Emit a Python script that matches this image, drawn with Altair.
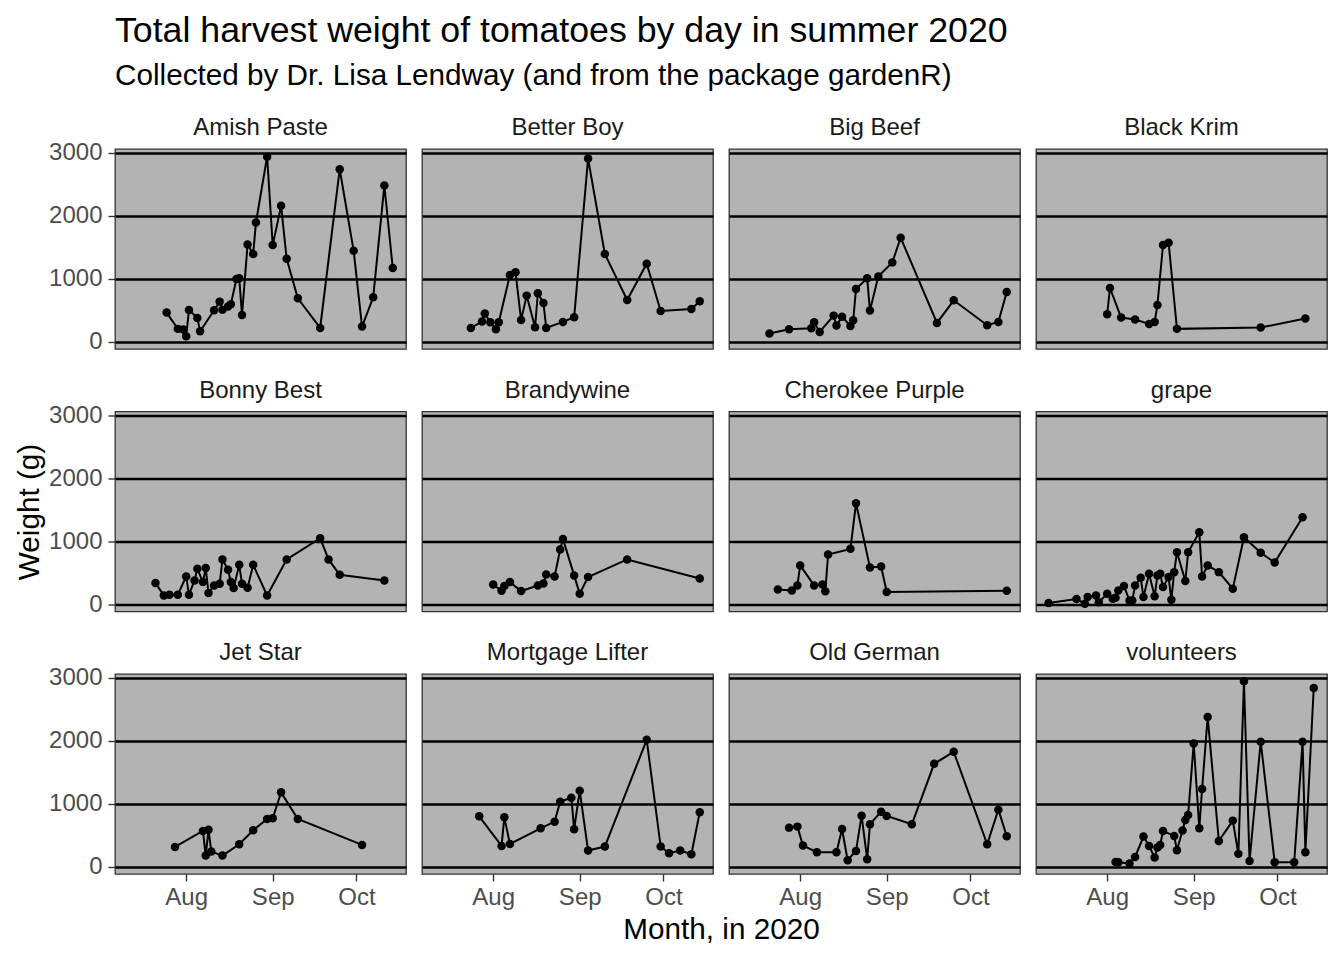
import altair as alt
import pandas as pd

varieties = ["Amish Paste", "Better Boy", "Big Beef", "Black Krim",
             "Bonny Best", "Brandywine", "Cherokee Purple", "grape",
             "Jet Star", "Mortgage Lifter", "Old German", "volunteers"]

amish_dates = ["07-25", "07-29", "07-31", "08-01", "08-02", "08-05", "08-06", "08-11",
               "08-13", "08-14", "08-16", "08-17", "08-19", "08-20", "08-21", "08-23",
               "08-25", "08-26", "08-30", "09-01", "09-04", "09-06", "09-10", "09-18",
               "09-25", "09-30", "10-03", "10-07", "10-11", "10-14"]
amish_weights = [464, 206, 195, 90, 506, 380, 169, 501, 638, 511, 559, 596, 996, 1007,
                 427, 1545, 1392, 1892, 2936, 1534, 2156, 1318, 691, 221, 2736, 1444,
                 242, 706, 2478, 1170]

betterboy_dates = ["07-24", "07-28", "07-29", "07-31", "08-02", "08-03", "08-07", "08-09",
                   "08-11", "08-13", "08-16", "08-17", "08-19", "08-20", "08-26", "08-30",
                   "09-04", "09-10", "09-18", "09-25", "09-30", "10-11", "10-14"]
betterboy_weights = [221, 322, 448, 311, 200, 311, 1060, 1102, 348, 733, 232, 770, 617,
                     221, 316, 390, 2905, 1392, 664, 1239, 490, 522, 643]

bigbeef_dates = ["07-21", "07-28", "08-05", "08-06", "08-08", "08-13", "08-14", "08-16",
                 "08-19", "08-20", "08-21", "08-25", "08-26", "08-29", "09-03", "09-06",
                 "09-19", "09-25", "10-07", "10-11", "10-14"]
bigbeef_weights = [132, 200, 216, 311, 158, 416, 258, 400, 253, 343, 838, 1007, 496,
                   1038, 1260, 1650, 300, 659, 264, 316, 791]

blackkrim_dates = ["08-01", "08-02", "08-06", "08-11", "08-16", "08-18", "08-19", "08-21",
                   "08-23", "08-26", "09-25", "10-11"]
blackkrim_weights = [438, 854, 385, 353, 285, 316, 585, 1534, 1571, 206, 227, 369]

bonny_dates = ["07-21", "07-24", "07-26", "07-29", "08-01", "08-02", "08-04", "08-05",
               "08-07", "08-08", "08-09", "08-11", "08-13", "08-14", "08-16", "08-17",
               "08-18", "08-20", "08-21", "08-23", "08-25", "08-30", "09-06", "09-18",
               "09-21", "09-25", "10-11"]
bonny_weights = [337, 142, 153, 153, 443, 153, 380, 564, 353, 575, 179, 300, 327, 712,
                 548, 353, 258, 627, 327, 264, 627, 142, 712, 1049, 712, 469, 380]

brandywine_dates = ["08-01", "08-04", "08-05", "08-07", "08-11", "08-17", "08-19", "08-20",
                    "08-23", "08-25", "08-26", "08-30", "09-01", "09-04", "09-18", "10-14"]
brandywine_weights = [316, 216, 290, 353, 211, 300, 332, 474, 443, 870, 1038, 459, 169,
                      432, 712, 411]

cherokee_dates = ["07-24", "07-29", "07-31", "08-01", "08-06", "08-09", "08-10", "08-11",
                  "08-19", "08-21", "08-26", "08-30", "09-01", "10-14"]
cherokee_weights = [237, 221, 300, 617, 300, 316, 206, 791, 880, 1603, 585, 601, 195, 216]

grape_dates = ["07-11", "07-21", "07-24", "07-25", "07-28", "07-29", "08-01", "08-03",
               "08-04", "08-05", "08-07", "08-09", "08-10", "08-11", "08-13", "08-14",
               "08-16", "08-18", "08-19", "08-20", "08-21", "08-23", "08-24", "08-25",
               "08-26", "08-29", "08-30", "09-03", "09-04", "09-06", "09-10", "09-15",
               "09-19", "09-25", "09-30", "10-10"]
grape_weights = [21, 84, 11, 116, 142, 32, 169, 90, 105, 221, 290, 63, 63, 300, 422, 116,
                 485, 127, 459, 485, 274, 432, 74, 511, 827, 369, 827, 1144, 443, 617,
                 511, 248, 1065, 817, 664, 1381]

jetstar_dates = ["07-28", "08-07", "08-08", "08-09", "08-10", "08-14", "08-20", "08-25",
                 "08-30", "09-01", "09-04", "09-10", "10-03"]
jetstar_weights = [316, 569, 179, 590, 242, 179, 358, 580, 759, 770, 1181, 759, 348]

mortgage_dates = ["07-27", "08-04", "08-05", "08-07", "08-18", "08-23", "08-25", "08-29",
                  "08-30", "09-01", "09-04", "09-10", "09-25", "09-30", "10-03", "10-07",
                  "10-11", "10-14"]
mortgage_weights = [801, 332, 785, 364, 611, 717, 1033, 1096, 596, 1207, 258, 322, 2014,
                    322, 216, 258, 200, 865]

oldgerman_dates = ["07-28", "07-31", "08-02", "08-07", "08-14", "08-16", "08-18", "08-21",
                   "08-23", "08-25", "08-26", "08-30", "09-01", "09-10", "09-18", "09-25",
                   "10-07", "10-11", "10-14"]
oldgerman_weights = [622, 638, 337, 232, 232, 601, 105, 253, 812, 121, 675, 875, 807, 675,
                     1634, 1824, 358, 907, 485]

volunteers_dates = ["08-04", "08-05", "08-09", "08-11", "08-14", "08-16", "08-18", "08-19",
                    "08-20", "08-21", "08-25", "08-26", "08-28", "08-29", "08-30", "09-01",
                    "09-03", "09-04", "09-06", "09-10", "09-15", "09-17", "09-19", "09-21",
                    "09-25", "09-30", "10-07", "10-10", "10-11", "10-14"]
volunteers_weights = [79, 74, 53, 158, 480, 332, 148, 306, 348, 569, 490, 264, 575, 743,
                      822, 1956, 612, 1234, 2377, 411, 733, 206, 2941, 95, 1982, 74, 74,
                      1982, 232, 2836]

series = [
    (amish_dates, amish_weights), (betterboy_dates, betterboy_weights),
    (bigbeef_dates, bigbeef_weights), (blackkrim_dates, blackkrim_weights),
    (bonny_dates, bonny_weights), (brandywine_dates, brandywine_weights),
    (cherokee_dates, cherokee_weights), (grape_dates, grape_weights),
    (jetstar_dates, jetstar_weights), (mortgage_dates, mortgage_weights),
    (oldgerman_dates, oldgerman_weights), (volunteers_dates, volunteers_weights),
]

y_ticks = [0, 1000, 2000, 3000]
x_tick_months = [8, 9, 10]

FONT = "Liberation Sans"
PW, PH = 291, 200

x_scale = alt.Scale(
    type="utc", nice=False,
    domain=[alt.DateTime(year=2020, month=7, date=6, hours=12, utc=True),
            alt.DateTime(year=2020, month=10, date=18, hours=18, utc=True)])
y_scale = alt.Scale(domain=[-113, 3057], nice=False, zero=False)
x_values = [alt.DateTime(year=2020, month=m, date=1, utc=True) for m in x_tick_months]


def make_panel(i):
    name = varieties[i]
    dates, weights = series[i]
    col, row = i % 4, i // 4
    data = pd.DataFrame({"date": ["2020-" + d for d in dates], "weight": weights})

    y_kw = dict(values=y_ticks, grid=True, gridColor="black", gridWidth=2.3,
                format="d", labels=(col == 0), ticks=(col == 0), labelPadding=6)
    if col == 0 and row == 1:
        y_kw.update(title="Weight (g)", titlePadding=4)
    else:
        y_kw.update(title=None)

    x_kw = dict(values=x_values, grid=False, labels=(row == 2), ticks=(row == 2),
                labelExpr="utcFormat(datum.value, '%b')", labelPadding=4)
    if row == 2 and col == 1:
        x_kw.update(title="Month, in 2020", titleX=PW + 8, titleY=55,
                    titleAlign="center", titleBaseline="middle")
    else:
        x_kw.update(title=None)

    enc = dict(
        x=alt.X("date:T", scale=x_scale, axis=alt.Axis(**x_kw)),
        y=alt.Y("weight:Q", scale=y_scale, axis=alt.Axis(**y_kw)),
    )
    line = alt.Chart(data).mark_line(color="black", strokeWidth=2).encode(**enc)
    pts = alt.Chart(data).mark_circle(color="black", opacity=1, size=72).encode(**enc)
    return alt.layer(line, pts).properties(
        width=PW, height=PH,
        title=alt.TitleParams(name, font=FONT, fontSize=24, fontWeight="normal",
                              color="#1a1a1a", anchor="middle",
                              offset=(0.5 if col == 0 else 9)),
    )


chart = alt.concat(
    *[make_panel(i) for i in range(len(varieties))],
    columns=4, spacing={"row": 62.5, "column": 16}, bounds="flush",
).properties(
    title=alt.TitleParams(
        "Total harvest weight of tomatoes by day in summer 2020",
        subtitle="Collected by Dr. Lisa Lendway (and from the package gardenR)",
        anchor="start", frame="group", font=FONT, subtitleFont=FONT,
        fontSize=35.7, subtitleFontSize=29.7, fontWeight="normal",
        color="black", subtitleColor="black", subtitlePadding=12, offset=24),
    padding={"left": 5, "top": 4, "right": 5, "bottom": 5},
).configure_view(
    fill="#b3b3b3", stroke="#333333", strokeWidth=1.3
).configure_axis(
    labelFont=FONT, labelFontSize=24, labelColor="#4d4d4d",
    titleFont=FONT, titleFontSize=29.7, titleFontWeight="normal", titleColor="black",
    tickColor="#333333", tickSize=7, tickWidth=1.4, domain=False,
)

chart.save("out.html", embed_options={"renderer": "svg", "actions": False})
